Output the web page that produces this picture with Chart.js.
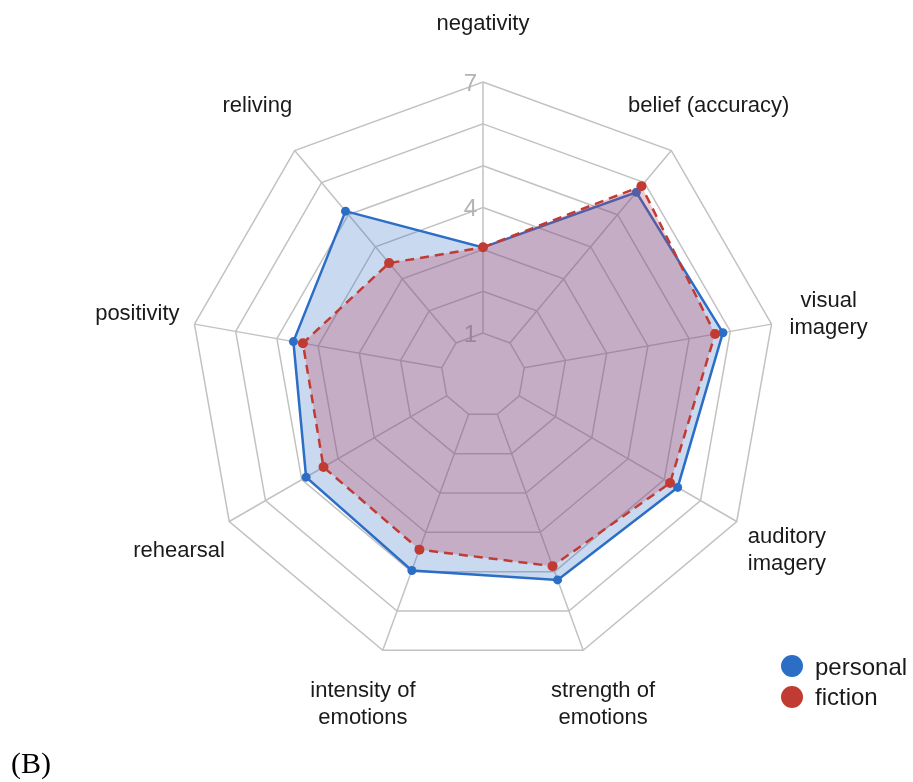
<!DOCTYPE html>
<html>
<head>
<meta charset="utf-8">
<script src="https://cdn.jsdelivr.net/npm/chart.js@4"></script>
<style>
  html, body { margin: 0; padding: 0; background: #ffffff; }
  #wrap { position: relative; width: 913px; height: 782px; }
</style>
</head>
<body>
<div id="wrap"><canvas id="c"></canvas></div>
<script>
// ---- data ----
const CATEGORIES = [
  'negativity',
  'belief (accuracy)',
  ['visual', 'imagery'],
  ['auditory', 'imagery'],
  ['strength of', 'emotions'],
  ['intensity of', 'emotions'],
  'rehearsal',
  'positivity',
  'reliving'
];
const PERSONAL = [3.05, 5.70, 5.82, 5.37, 5.21, 4.97, 4.88, 4.60, 5.11];
const FICTION  = [3.05, 5.89, 5.63, 5.16, 4.86, 4.44, 4.40, 4.37, 3.49];
const SERIES_NAMES = ['personal', 'fiction'];
const TICK_LABELS = [1, 4, 7];
const PANEL_LABEL = '(B)';

// ---- styles ----
const BLUE = '#2c6dc6';
const RED = '#c23b33';
const GRID = '#c2c2c2';
const SANS = '"Liberation Sans", Arial, sans-serif';

const overlay = {
  id: 'overlay',
  beforeDatasetsDraw(chart) {
    const s = chart.scales.r;
    const ctx = chart.ctx;
    ctx.save();
    // spokes from the first ring outwards
    ctx.strokeStyle = GRID;
    ctx.lineWidth = 1.5;
    for (let i = 0; i < CATEGORIES.length; i++) {
      const a = s.getPointPositionForValue(i, 1);
      const b = s.getPointPositionForValue(i, s.max);
      ctx.beginPath();
      ctx.moveTo(a.x, a.y);
      ctx.lineTo(b.x, b.y);
      ctx.stroke();
    }
    // tick labels
    ctx.font = '24px ' + SANS;
    ctx.fillStyle = '#b3b3b3';
    ctx.textAlign = 'right';
    ctx.textBaseline = 'middle';
    TICK_LABELS.forEach(v => {
      const d = s.getDistanceFromCenterForValue(v);
      ctx.fillText(String(v), s.xCenter - 6, s.yCenter - d + 2);
    });
    ctx.restore();
  },
  afterDraw(chart) {
    const s = chart.scales.r;
    const ctx = chart.ctx;
    ctx.save();
    // point labels
    ctx.font = '22px ' + SANS;
    ctx.fillStyle = '#1a1a1a';
    ctx.textAlign = 'center';
    ctx.textBaseline = 'middle';
    const lh = 27;
    chart.data.labels.forEach((lab, i) => {
      const p = s.getPointPosition(i, s.drawingArea + 58);
      const lines = Array.isArray(lab) ? lab : [lab];
      lines.forEach((ln, k) => {
        ctx.fillText(ln, p.x, p.y + (k - (lines.length - 1) / 2) * lh);
      });
    });
    // legend
    const items = [
      { name: SERIES_NAMES[0], color: BLUE, cy: 666, by: 675 },
      { name: SERIES_NAMES[1], color: RED, cy: 697, by: 705 }
    ];
    ctx.font = '24px ' + SANS;
    ctx.textAlign = 'left';
    ctx.textBaseline = 'alphabetic';
    items.forEach(it => {
      ctx.beginPath();
      ctx.fillStyle = it.color;
      ctx.arc(792, it.cy, 11, 0, Math.PI * 2);
      ctx.fill();
      ctx.fillStyle = '#1a1a1a';
      ctx.fillText(it.name, 815, it.by);
    });
    // panel label
    ctx.font = '30px "Liberation Serif", "Times New Roman", serif';
    ctx.fillStyle = '#000000';
    ctx.fillText(PANEL_LABEL, 11, 773);
    ctx.restore();
  }
};

new Chart(document.getElementById('c'), {
  type: 'radar',
  data: {
    labels: CATEGORIES,
    datasets: [
      {
        label: SERIES_NAMES[0],
        data: PERSONAL,
        order: 1,
        borderColor: BLUE,
        backgroundColor: 'rgba(44,109,198,0.26)',
        borderWidth: 2.5,
        fill: true,
        pointRadius: 4.5,
        pointBackgroundColor: BLUE,
        pointBorderColor: BLUE,
        pointBorderWidth: 0,
        tension: 0
      },
      {
        label: SERIES_NAMES[1],
        data: FICTION,
        order: 0,
        borderColor: RED,
        backgroundColor: 'rgba(190,55,80,0.27)',
        borderWidth: 2.5,
        borderDash: [9, 6],
        fill: true,
        pointRadius: 5,
        pointBackgroundColor: RED,
        pointBorderColor: RED,
        pointBorderWidth: 0,
        tension: 0
      }
    ]
  },
  options: {
    responsive: true,
    maintainAspectRatio: false,
    animation: false,
    layout: { padding: { left: 190, right: 137, top: 82, bottom: 114 } },
    plugins: {
      legend: { display: false },
      tooltip: { enabled: false }
    },
    scales: {
      r: {
        min: 0,
        max: 7,
        startAngle: 0,
        ticks: { display: false, stepSize: 1 },
        pointLabels: { display: false },
        grid: { color: GRID, lineWidth: 1.5 },
        angleLines: { display: false }
      }
    }
  },
  plugins: [overlay]
});
</script>
</body>
</html>
